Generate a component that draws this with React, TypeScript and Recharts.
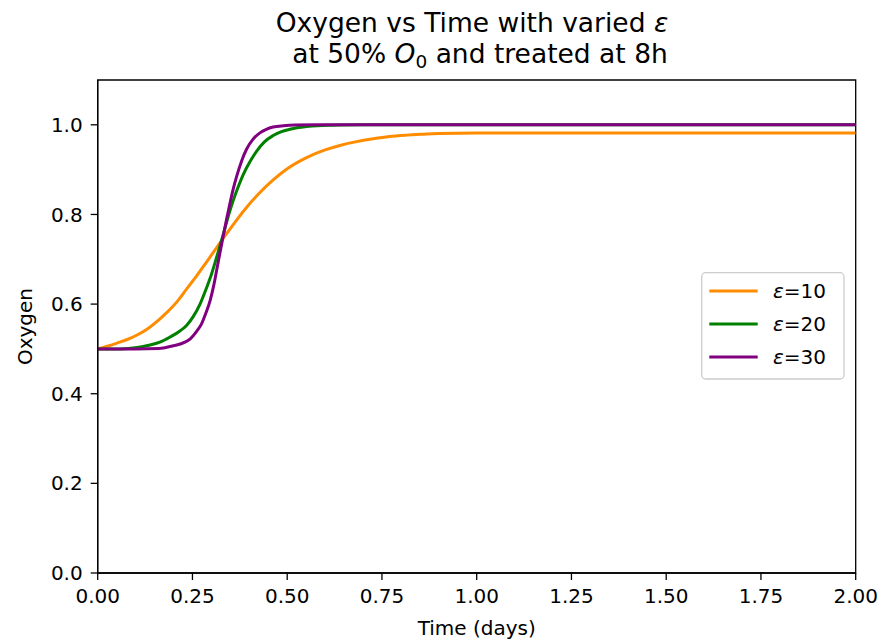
import React from 'react';
import { LineChart, Line, XAxis, YAxis, ReferenceArea } from 'recharts';

const xTicks = [0, 0.25, 0.5, 0.75, 1.0, 1.25, 1.5, 1.75, 2.0];
const yTicks = [0, 0.2, 0.4, 0.6, 0.8, 1.0];

const eps10 = [
  { t: 0, v: 0.5 }, { t: 0.025, v: 0.506 }, { t: 0.051, v: 0.513 }, { t: 0.078, v: 0.521 },
  { t: 0.104, v: 0.531 }, { t: 0.13, v: 0.544 }, { t: 0.156, v: 0.561 }, { t: 0.182, v: 0.581 },
  { t: 0.209, v: 0.605 }, { t: 0.235, v: 0.634 }, { t: 0.262, v: 0.664 }, { t: 0.288, v: 0.695 },
  { t: 0.314, v: 0.726 }, { t: 0.34, v: 0.757 }, { t: 0.367, v: 0.788 }, { t: 0.397, v: 0.82 },
  { t: 0.428, v: 0.849 }, { t: 0.463, v: 0.877 }, { t: 0.5, v: 0.902 }, { t: 0.551, v: 0.927 },
  { t: 0.6, v: 0.944 }, { t: 0.639, v: 0.954 }, { t: 0.68, v: 0.962 }, { t: 0.727, v: 0.969 },
  { t: 0.77, v: 0.974 }, { t: 0.815, v: 0.977 }, { t: 0.86, v: 0.979 }, { t: 0.9, v: 0.9805 },
  { t: 1.0, v: 0.982 }, { t: 1.25, v: 0.982 }, { t: 1.5, v: 0.982 }, { t: 1.75, v: 0.982 },
  { t: 2.0, v: 0.982 },
];

const eps20 = [
  { t: 0, v: 0.5 }, { t: 0.06, v: 0.5 }, { t: 0.104, v: 0.503 }, { t: 0.135, v: 0.508 },
  { t: 0.164, v: 0.515 }, { t: 0.19, v: 0.526 }, { t: 0.217, v: 0.54 }, { t: 0.235, v: 0.553 },
  { t: 0.252, v: 0.572 }, { t: 0.27, v: 0.6 }, { t: 0.288, v: 0.638 }, { t: 0.3, v: 0.666 },
  { t: 0.314, v: 0.705 }, { t: 0.325, v: 0.737 }, { t: 0.336, v: 0.77 }, { t: 0.347, v: 0.803 },
  { t: 0.358, v: 0.832 }, { t: 0.37, v: 0.86 }, { t: 0.384, v: 0.889 }, { t: 0.402, v: 0.918 },
  { t: 0.42, v: 0.942 }, { t: 0.44, v: 0.962 }, { t: 0.463, v: 0.976 }, { t: 0.485, v: 0.985 },
  { t: 0.507, v: 0.99 }, { t: 0.53, v: 0.994 }, { t: 0.551, v: 0.996 }, { t: 0.58, v: 0.998 },
  { t: 0.62, v: 0.999 }, { t: 0.7, v: 1.0 }, { t: 1.0, v: 1.0 }, { t: 1.5, v: 1.0 },
  { t: 2.0, v: 1.0 },
];

const eps30 = [
  { t: 0, v: 0.5 }, { t: 0.1, v: 0.5 }, { t: 0.16, v: 0.501 }, { t: 0.2, v: 0.507 },
  { t: 0.23, v: 0.515 }, { t: 0.245, v: 0.523 }, { t: 0.262, v: 0.54 }, { t: 0.274, v: 0.556 },
  { t: 0.285, v: 0.579 }, { t: 0.297, v: 0.609 }, { t: 0.307, v: 0.645 }, { t: 0.314, v: 0.676 },
  { t: 0.322, v: 0.712 }, { t: 0.331, v: 0.751 }, { t: 0.34, v: 0.789 }, { t: 0.349, v: 0.825 },
  { t: 0.358, v: 0.858 }, { t: 0.367, v: 0.886 }, { t: 0.38, v: 0.92 }, { t: 0.393, v: 0.946 },
  { t: 0.41, v: 0.968 }, { t: 0.428, v: 0.982 }, { t: 0.445, v: 0.99 }, { t: 0.463, v: 0.995 },
  { t: 0.49, v: 0.998 }, { t: 0.52, v: 0.9995 }, { t: 0.6, v: 1.0 }, { t: 1.0, v: 1.0 },
  { t: 1.5, v: 1.0 }, { t: 2.0, v: 1.0 },
];

const seriesLabels = ['10', '20', '30'];
const colors = ['#ff8c00', '#008000', '#800080'];

const FONT = '"DejaVu Sans", sans-serif';

export default function App() {
  const tickStyle = { fontFamily: FONT, fontSize: 20, fill: '#000' };
  return (
    <div style={{ position: 'absolute', left: 0, top: 0, width: 884, height: 640, background: '#fff' }}>
      <LineChart
        width={884}
        height={640}
        margin={{ top: 80, right: 28.3, bottom: 27, left: 37.7 }}
      >
        <XAxis
          dataKey="t"
          type="number"
          domain={[0, 2]}
          ticks={xTicks}
          tickFormatter={(v: number) => v.toFixed(2)}
          allowDataOverflow
          height={40}
          tickSize={7}
          tickMargin={9}
          tick={tickStyle}
          axisLine={{ stroke: '#000', strokeWidth: 1.3 }}
          tickLine={{ stroke: '#000', strokeWidth: 1.3 }}
        />
        <YAxis
          type="number"
          domain={[0, 1.1]}
          ticks={yTicks}
          tickFormatter={(v: number) => v.toFixed(1)}
          allowDataOverflow
          width={60}
          tickSize={7}
          tickMargin={8}
          tick={tickStyle}
          axisLine={{ stroke: '#000', strokeWidth: 1.3 }}
          tickLine={{ stroke: '#000', strokeWidth: 1.3 }}
        />
        <ReferenceArea
          x1={0}
          x2={2}
          y1={0}
          y2={1.1}
          fill="none"
          fillOpacity={0}
          stroke="#000"
          strokeWidth={1.3}
          ifOverflow="visible"
        />
        <Line data={eps10} dataKey="v" type="monotone" stroke={colors[0]} strokeWidth={3} dot={false} isAnimationActive={false} />
        <Line data={eps20} dataKey="v" type="monotone" stroke={colors[1]} strokeWidth={3} dot={false} isAnimationActive={false} />
        <Line data={eps30} dataKey="v" type="monotone" stroke={colors[2]} strokeWidth={3} dot={false} isAnimationActive={false} />
      </LineChart>

      <svg width={884} height={640} style={{ position: 'absolute', left: 0, top: 0, pointerEvents: 'none' }}>
        <text x={472} y={32} textAnchor="middle" fontFamily={FONT} fontSize={26.5} fill="#000">
          Oxygen vs Time with varied <tspan fontStyle="italic">ε</tspan>
        </text>
        <text x={480} y={63} textAnchor="middle" fontFamily={FONT} fontSize={26.5} fill="#000">
          at 50% <tspan fontStyle="italic">O</tspan><tspan fontSize={18.5} dy={5}>0</tspan><tspan dy={-5}> and treated at 8h</tspan>
        </text>
        <text x={476.7} y={635} textAnchor="middle" fontFamily={FONT} fontSize={20} fill="#000">
          Time (days)
        </text>
        <text x={32} y={326.5} textAnchor="middle" fontFamily={FONT} fontSize={20} fill="#000" transform="rotate(-90 32 326.5)">
          Oxygen
        </text>
        <rect x={701.7} y={272.7} width={142.3} height={106.3} rx={4} ry={4} fill="#fff" fillOpacity={0.8} stroke="#cccccc" strokeWidth={1.3} />
        {seriesLabels.map((lab, i) => (
          <g key={lab}>
            <line x1={709.3} x2={757.7} y1={291 + i * 33} y2={291 + i * 33} stroke={colors[i]} strokeWidth={3} />
            <text x={773} y={291 + i * 33 + 7} fontFamily={FONT} fontSize={20} fill="#000">
              <tspan fontStyle="italic">ε</tspan>={lab}
            </text>
          </g>
        ))}
      </svg>
    </div>
  );
}
